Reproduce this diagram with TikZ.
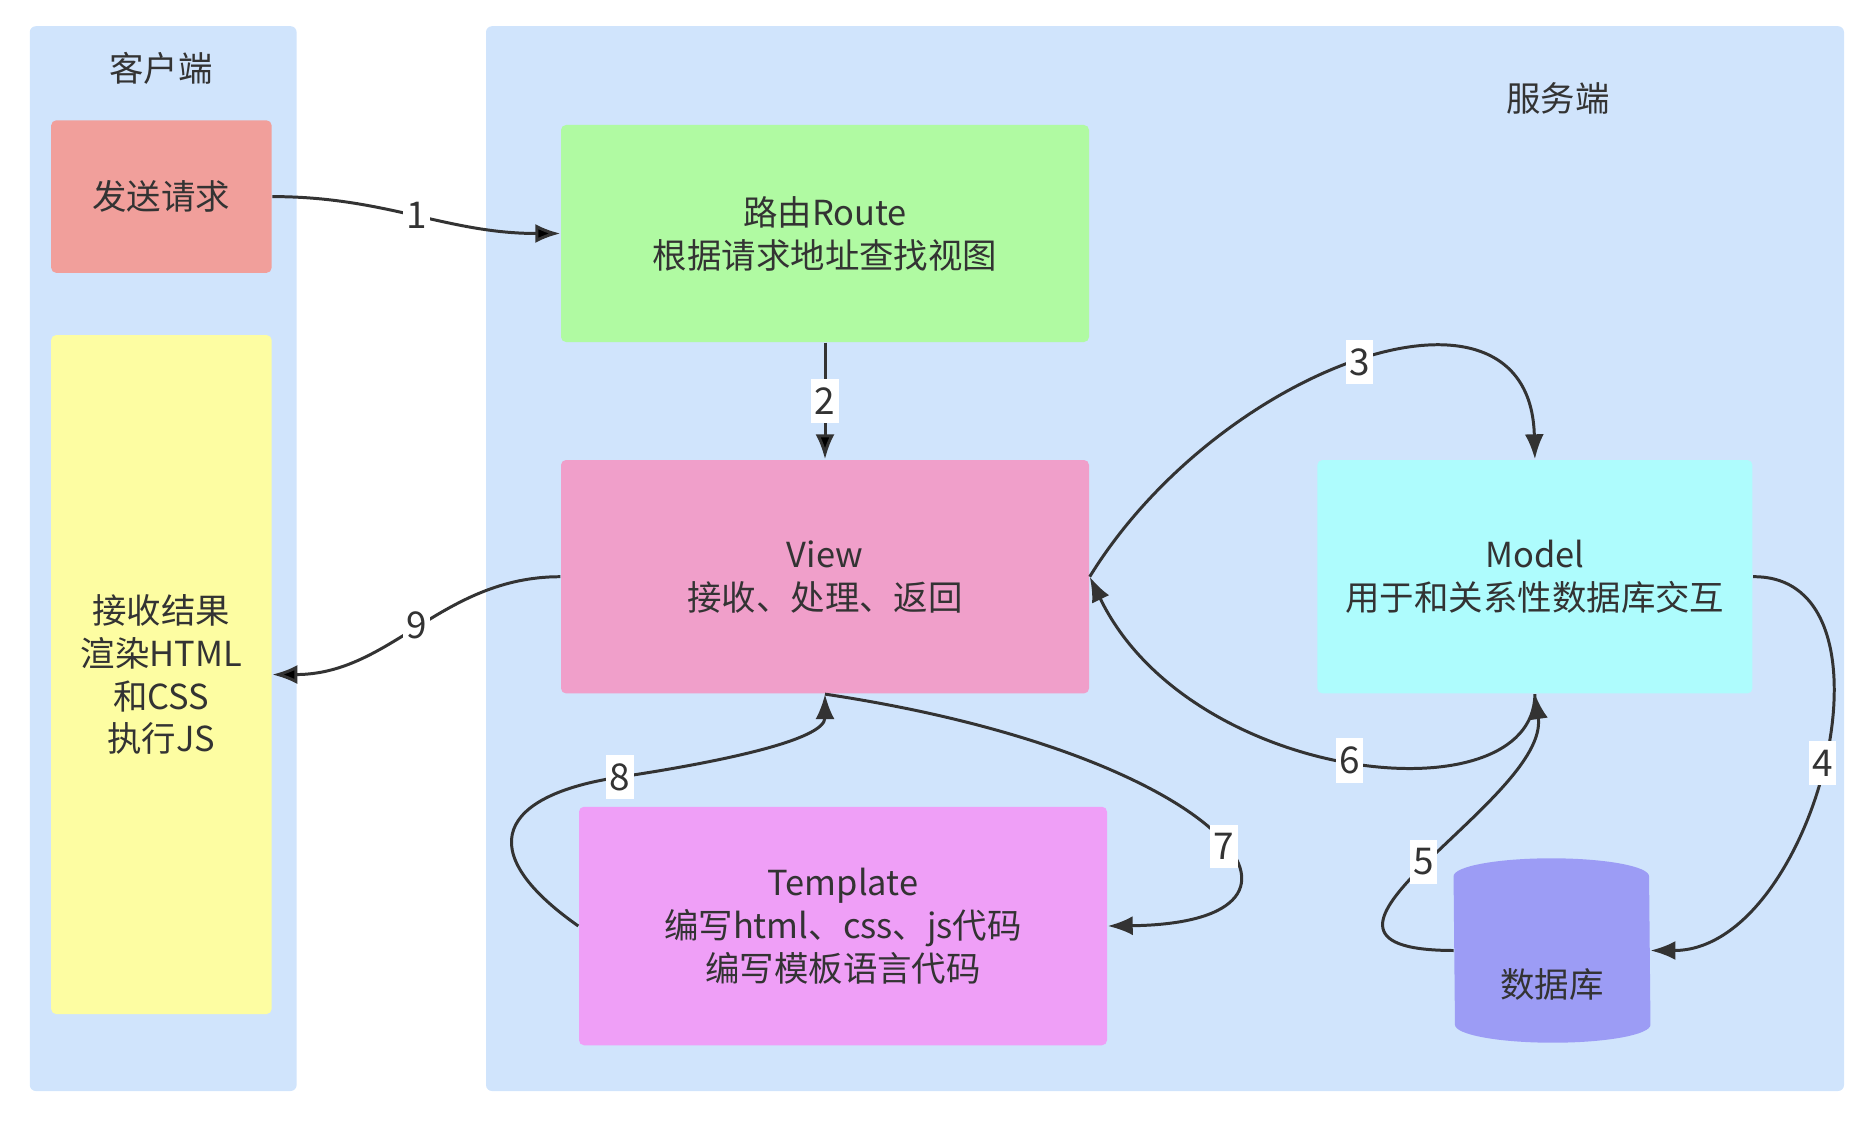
\documentclass[tikz,border=0pt]{standalone}
\usepackage{fontspec}
\setmainfont{Noto Sans CJK SC}
\usepackage{tikz}
\usetikzlibrary{positioning, arrows.meta}
\definecolor{clusterbg}{HTML}{D0E4FC}
\definecolor{txt}{HTML}{333333}
\definecolor{sendfill}{HTML}{F19F9B}
\definecolor{resultfill}{HTML}{FDFDA2}
\definecolor{routefill}{HTML}{B0FAA2}
\definecolor{viewfill}{HTML}{F09FCA}
\definecolor{modelfill}{HTML}{AEFCFD}
\definecolor{templatefill}{HTML}{EF9FF7}
\definecolor{dbfill}{HTML}{9C9CF5}
\tikzset{main node/.style={rectangle, rounded corners=0.5mm, minimum width=5.28cm, inner sep=0pt, align=center, text=txt, font=\fontsize{9.8}{12.2}\selectfont},
  title/.style={text=txt, inner sep=0pt, font=\fontsize{9.8}{12.2}\selectfont},
  num/.style={fill=white, text=txt, inner xsep=1pt, inner ysep=2.5pt, font=\fontsize{10.5}{12}\selectfont},
  flow/.style={draw=txt, line width=0.85pt, -{Latex[length=2.5mm,width=1.9mm]}},}

\begin{document}
\begin{tikzpicture}
				\useasboundingbox (0,0) rectangle (18.68,-11.29);
				% Clusters
				\fill[clusterbg, rounded corners=0.6mm] (0.298,-0.262) rectangle (2.966,-10.91);
				\fill[clusterbg, rounded corners=0.6mm] (4.86,-0.262) rectangle (18.44,-10.91);
				\node[title] (clienttitle) at (1.608,-0.679) {客户端};
				\node[title] (servertitle) at (15.58,-0.989) {服务端};
				% Client side
				\node[main node, fill=sendfill, minimum width=2.204cm, minimum height=1.525cm] (send) at (1.614,-1.966) {发送请求};
				\node[main node, fill=resultfill, minimum width=2.204cm, minimum height=6.79cm] [below = 0.608cm of send] (result) {接收结果\\渲染HTML\\和CSS\\执行JS};
				% Server side
				\node[main node, fill=routefill, minimum height=2.17cm] (route) at (8.25,-2.335) {路由Route\\根据请求地址查找视图};
				\node[main node, fill=viewfill, minimum height=2.334cm] [below = 1.166cm of route] (view) {View\\接收、处理、返回};
				\node[main node, fill=modelfill, minimum width=4.35cm, minimum height=2.334cm] [right = 2.27cm of view] (model) {Model\\用于和关系性数据库交互};
				\node[main node, fill=templatefill, minimum height=2.385cm] (template) at (8.43,-9.26) {Template\\编写html、css、js代码\\编写模板语言代码};
				\node[minimum width=1.955cm, minimum height=1.83cm, inner sep=0pt] (db) at (15.52,-9.505) {};
				\fill[dbfill] ([yshift=-1.8mm]db.north west) arc[start angle=180, end angle=0, x radius=0.9775, y radius=0.18]
					-- ([yshift=1.8mm]db.south east) arc[start angle=0, end angle=-180, x radius=0.9775, y radius=0.18] -- cycle;
				\node[title] (dbtext) at ([yshift=-3.4mm]db.center) {数据库};
				% Paths
				\path[flow]
				(send) edge[out=0, in=180] node[num] {1} (route)
				(route) edge node[num] {2} (view)
				(view) edge[out=180, in=0] node[num] {9} (result);
				\draw[flow] (view.east) .. controls (12.20,-3.65) and (15.30,-2.55) .. (model.north) node[num, pos=0.5] {3};
				\draw[flow] (model.east) .. controls (19.10,-5.753) and (18.15,-9.505) .. (db.east) node[num, pos=0.5] {4};
				\draw[flow] (db.west) .. controls (12.50,-9.50) and (15.50,-8.00) .. (model.south) node[num, pos=0.5] {5};
				\draw[flow] (model.south) .. controls (15.335,-8.20) and (11.90,-7.85) .. (view.east) node[num, pos=0.5] {6};
				\draw[flow] (view.south) .. controls (12.30,-7.55) and (13.56,-9.23) .. (template.east) node[num, pos=0.55] {7};
				\draw[flow] (template.west) .. controls (4.70,-8.50) and (5.00,-7.95) .. (6.20,-7.77) node[num] {8}
					.. controls (7.20,-7.62) and (8.25,-7.40) .. (view.south);
			\end{tikzpicture}
\end{document}
